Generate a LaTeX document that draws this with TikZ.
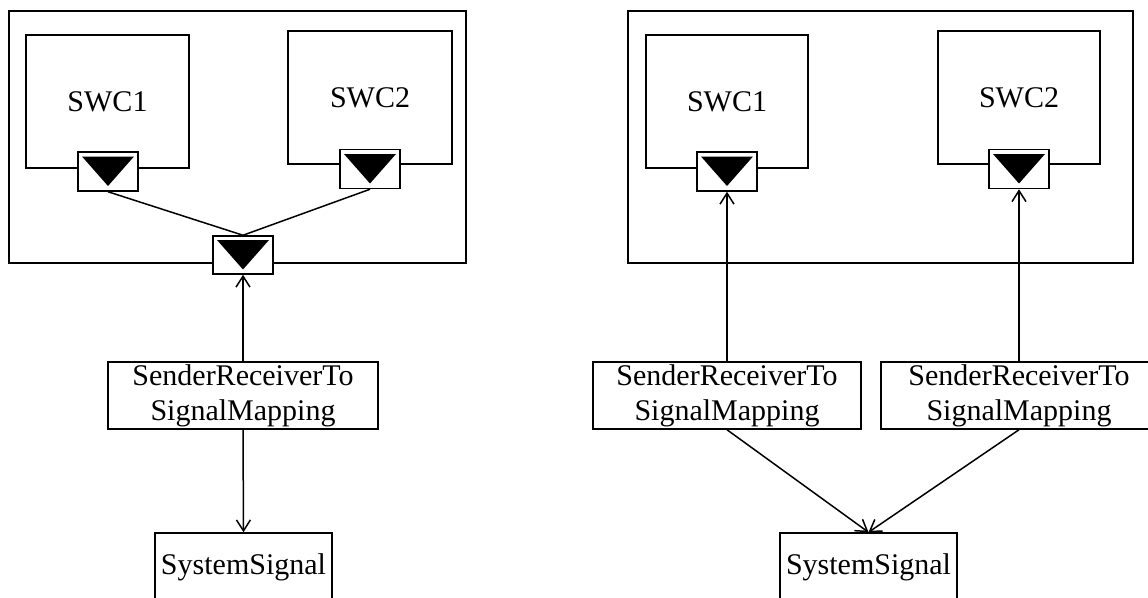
\documentclass[tikz,border=0pt]{standalone}
\usepackage{fontspec}
\setmainfont{Liberation Serif}
\usetikzlibrary{arrows.meta}
\begin{document}
\begin{tikzpicture}[x=1pt,y=-1pt,
  box/.style={draw, line width=1.5pt, inner sep=0pt, font=\fontsize{30}{35}\selectfont, align=center},
  frame/.style={draw, line width=1.2pt, inner sep=0pt},
  portbox/.style={draw, line width=1.5pt, fill=white, inner sep=0pt, minimum width=60pt, minimum height=39pt},
  conn/.style={line width=1.5pt},
  arr/.style={line width=1.5pt, -{Straight Barb[length=11pt,width=14pt,line width=1.5pt]}}
]
\useasboundingbox (0,0) rectangle (1148,597);
\clip (0,0) rectangle (1148,597);

% ---------- left panel ----------
\node[frame, minimum width=457pt, minimum height=252pt] (outerL) at (237.5,137) {};
\node[box, minimum width=163pt, minimum height=133pt] (swcL1) at (107.5,101.5) {SWC1};
\node[box, minimum width=164pt, minimum height=133pt] (swcL2) at (370,97.5) {SWC2};
\node[portbox] (portL1) at (108,171.5) {};
\node[portbox] (portL2) at (370,169) {};
\node[portbox, minimum height=38pt] (portLc) at (243,255) {};
\node[box, minimum width=270pt, minimum height=67pt] (srtL) at (243,395.5) {SenderReceiverTo\\SignalMapping};
\node[box, minimum width=177pt, minimum height=68pt] (sysL) at (243.5,567) {SystemSignal};

\draw[conn] (portL1.south) -- (portLc.north);
\draw[conn] (portL2.south) -- (portLc.north);
\draw[arr] (srtL.north) -- (portLc.south);
\draw[arr] (srtL.south) -- (sysL.north);

% ---------- right panel ----------
\node[frame, minimum width=505pt, minimum height=252pt] (outerR) at (880.5,137) {};
\node[box, minimum width=162pt, minimum height=133pt] (swcR1) at (727,101.5) {SWC1};
\node[box, minimum width=162pt, minimum height=133pt] (swcR2) at (1019,97.5) {SWC2};
\node[portbox] (portR1) at (727,171.5) {};
\node[portbox] (portR2) at (1019,169) {};
\node[box, minimum width=268pt, minimum height=67pt] (srtR1) at (727,395.5) {SenderReceiverTo\\SignalMapping};
\node[box, minimum width=276pt, minimum height=67pt] (srtR2) at (1019,395.5) {SenderReceiverTo\\SignalMapping};
\node[box, minimum width=177pt, minimum height=68pt] (sysR) at (868.5,567) {SystemSignal};

\draw[arr] (srtR1.north) -- (portR1.south);
\draw[arr] (srtR2.north) -- (portR2.south);
\draw[arr] (srtR1.south) -- (sysR.north);
\draw[arr] (srtR2.south) -- (sysR.north);

% ---------- port triangles ----------
\foreach \p in {portL1,portL2,portLc,portR1,portR2}{
  \fill ([shift={(-26,-15)}]\p.center) -- ([shift={(26,-15)}]\p.center) -- ([shift={(0,14.5)}]\p.center) -- cycle;
}
\end{tikzpicture}
\end{document}
